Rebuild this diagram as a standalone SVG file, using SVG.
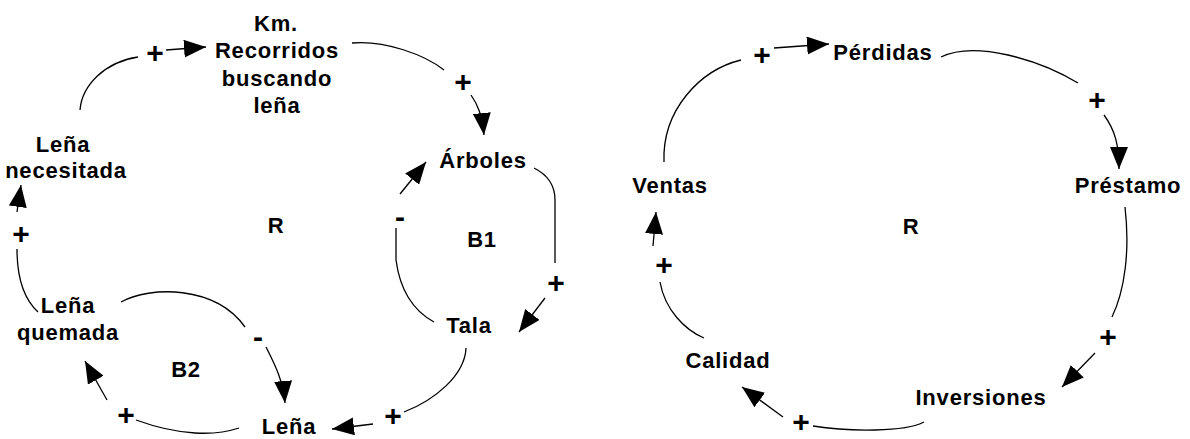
<svg xmlns="http://www.w3.org/2000/svg" width="1190" height="439" viewBox="0 0 1190 439">
<style>
  .lbl { font-family: "Liberation Sans", Arial, sans-serif; font-weight: bold; font-size: 22px; letter-spacing: 0.8px; fill: #000; text-anchor: middle; }
  .sign { font-family: "Liberation Sans", Arial, sans-serif; font-weight: bold; font-size: 30px; fill: #000; text-anchor: middle; }
  .c { fill: none; stroke: #000; stroke-width: 1.3; }
  .a { marker-end: url(#arr); }
</style>
<defs>
  <marker id="arr" viewBox="0 0 22 18" refX="22" refY="9" markerWidth="22" markerHeight="18" markerUnits="userSpaceOnUse" orient="auto">
    <path d="M0,0 L22,9 L0,18 z" fill="#000"/>
  </marker>
</defs>
<rect width="1190" height="439" fill="#fff"/>

<g id="connectors">
  <!-- left diagram -->
  <path class="c" d="M80,110 C82,85 105,62 138,57"/>
  <path class="c a" d="M166,50 L206,47"/>
  <path class="c" d="M352,43 C385,40 425,55 444,70"/>
  <path class="c a" d="M471,95 C478,105 482,115 484,135"/>
  <path class="c" d="M534,168 C548,175 555,185 555,200 L555,263"/>
  <path class="c a" d="M545,298 L519,332"/>
  <path class="c" d="M434,322 C412,310 400,290 396,260 L396,228"/>
  <path class="c a" d="M400,194 L426,162"/>
  <path class="c" d="M466,348 C465,375 435,400 404,412"/>
  <path class="c a" d="M373,424 L332,429"/>
  <path class="c" d="M239,428 C215,436 180,436 136,420"/>
  <path class="c a" d="M107,400 L85,361"/>
  <path class="c" d="M121,302 C150,286 215,285 245,327"/>
  <path class="c a" d="M266,347 C275,365 283,380 285,403"/>
  <path class="c" d="M38,312 C25,300 17,280 17,249"/>
  <path class="c a" d="M17,212 L21,185"/>
  <!-- right diagram -->
  <path class="c" d="M664,162 C662,110 700,70 741,60"/>
  <path class="c a" d="M774,48 L829,44"/>
  <path class="c" d="M941,57 C975,40 1040,60 1078,83"/>
  <path class="c a" d="M1104,115 C1115,130 1119,145 1119,169"/>
  <path class="c" d="M1125,207 C1130,250 1125,290 1112,317"/>
  <path class="c a" d="M1095,353 L1062,387"/>
  <path class="c" d="M924,422 C905,432 850,432 813,426"/>
  <path class="c a" d="M783,417 L742,387"/>
  <path class="c" d="M704,338 C685,330 665,310 660,282"/>
  <path class="c a" d="M653,246 L656,212"/>
</g>

<g id="signs">
  <text class="sign" x="155" y="63">+</text>
  <text class="sign" x="463" y="92">+</text>
  <text class="sign" x="556" y="293">+</text>
  <text class="sign" x="400" y="227">-</text>
  <text class="sign" x="393" y="426">+</text>
  <text class="sign" x="126" y="425">+</text>
  <text class="sign" x="258" y="347">-</text>
  <text class="sign" x="21" y="244">+</text>
  <text class="sign" x="762" y="65">+</text>
  <text class="sign" x="1097" y="110">+</text>
  <text class="sign" x="1108" y="347">+</text>
  <text class="sign" x="801" y="432">+</text>
  <text class="sign" x="664" y="275">+</text>
</g>

<g id="node-km">
  <text class="lbl" x="276" y="31">Km.</text>
  <text class="lbl" x="277" y="58">Recorridos</text>
  <text class="lbl" x="277" y="86">buscando</text>
  <text class="lbl" x="277" y="113">leña</text>
</g>
<g id="node-lena-necesitada">
  <text class="lbl" x="63" y="152">Leña</text>
  <text class="lbl" x="66" y="178">necesitada</text>
</g>
<g id="node-arboles">
  <text class="lbl" x="483" y="168">Árboles</text>
</g>
<g id="node-tala">
  <text class="lbl" x="469" y="333">Tala</text>
</g>
<g id="node-lena-quemada">
  <text class="lbl" x="68" y="313">Leña</text>
  <text class="lbl" x="68" y="340">quemada</text>
</g>
<g id="node-lena">
  <text class="lbl" x="289" y="434">Leña</text>
</g>
<g id="loop-left">
  <text class="lbl" x="276" y="233">R</text>
  <text class="lbl" x="482" y="247">B1</text>
  <text class="lbl" x="186" y="377">B2</text>
</g>

<g id="node-perdidas">
  <text class="lbl" x="883" y="60">Pérdidas</text>
</g>
<g id="node-prestamo">
  <text class="lbl" x="1128" y="193">Préstamo</text>
</g>
<g id="node-inversiones">
  <text class="lbl" x="981" y="405">Inversiones</text>
</g>
<g id="node-calidad">
  <text class="lbl" x="728" y="368">Calidad</text>
</g>
<g id="node-ventas">
  <text class="lbl" x="670" y="193">Ventas</text>
</g>
<g id="loop-right">
  <text class="lbl" x="911" y="234">R</text>
</g>
</svg>
